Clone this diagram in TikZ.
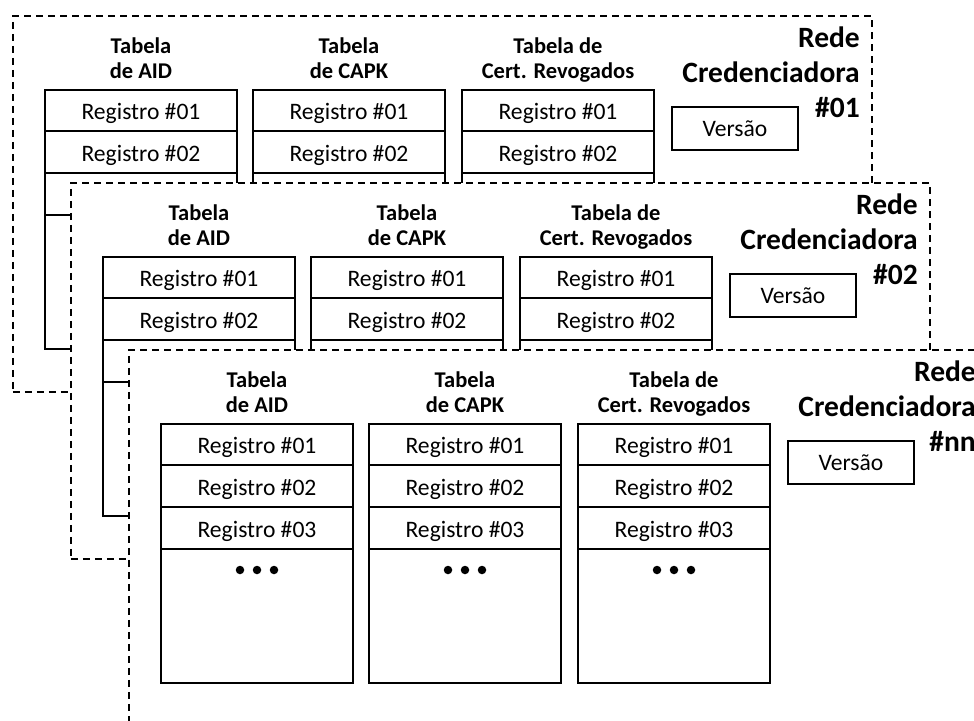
\documentclass[tikz,border=0pt]{standalone}
\usepackage{fontspec}
\setmainfont{Carlito}
\tikzset{
  panelbox/.style={draw, dash pattern=on 7pt off 5pt, line width=1.6pt, fill=white,
    minimum width=859pt, minimum height=376pt, inner sep=0pt, anchor=north west},
  tblbox/.style={draw, line width=2pt, minimum width=192pt, minimum height=259pt,
    inner sep=0pt, anchor=north},
  rowline/.style={line width=1.1pt},
  reg/.style={font=\fontsize{23.6}{28}\selectfont, inner sep=0pt, anchor=base},
  hdr/.style={font=\bfseries\fontsize{22.5}{27}\selectfont, inner sep=0pt, anchor=base},
  ttl/.style={font=\bfseries\fontsize{29.5}{35}\selectfont, inner sep=0pt, anchor=base east},
  verbox/.style={draw, line width=2pt, minimum width=126pt, minimum height=43pt,
    inner sep=0pt, font=\fontsize{23.6}{28}\selectfont, anchor=north west},
  dotc/.style={circle, fill=black, inner sep=0pt, minimum size=8.5pt}
}
\newcommand\rcpanel[5]{%
\begin{scope}[shift={(#2,#3)}]
  \node[panelbox] (#1) at (0,0) {};
  \foreach \t/\cx/\ha/\hb in {aid/129/Tabela/de AID, capk/337/Tabela/de CAPK, cert/546/Tabela de/Cert. Revogados}{
    \node[tblbox] (#1\t) at (\cx,74) {};
    \draw[rowline] ([yshift=-42pt]#1\t.north west) -- ([yshift=-42pt]#1\t.north east);
    \draw[rowline] ([yshift=-84pt]#1\t.north west) -- ([yshift=-84pt]#1\t.north east);
    \draw[rowline] ([yshift=-126pt]#1\t.north west) -- ([yshift=-126pt]#1\t.north east);
    \node[hdr] (#1\t h1) at (\cx,38) {\ha};
    \node[hdr] (#1\t h2) at (\cx,63) {\hb};
    \node[reg] (#1\t r1) at (\cx,104.5) {Registro \#01};
    \node[reg] (#1\t r2) at (\cx,146.5) {Registro \#02};
    \ifnum#5=1
      \node[reg] (#1\t r3) at (\cx,188.5) {Registro \#03};
      \node[dotc] (#1\t d1) at (\cx-17,221) {};
      \node[dotc] (#1\t d2) at (\cx,221) {};
      \node[dotc] (#1\t d3) at (\cx+17,221) {};
    \fi
  }
  \node[verbox] (#1ver) at (659,91) {Versão};
  \node[ttl] (#1t1) at (848,32) {Rede};
  \node[ttl] (#1t2) at (848,67) {Credenciadora};
  \node[ttl] (#1t3) at (848,102) {\##4};
\end{scope}}
\begin{document}
\begin{tikzpicture}[x=1pt,y=-1pt]
  \useasboundingbox (0,0) rectangle (974,720);
  \clip (0,0) rectangle (974,720);
  \rcpanel{pa}{12}{15}{01}{0}
  \rcpanel{pb}{70}{182}{02}{0}
  \rcpanel{pc}{128}{349}{nn}{1}
\end{tikzpicture}
\end{document}
